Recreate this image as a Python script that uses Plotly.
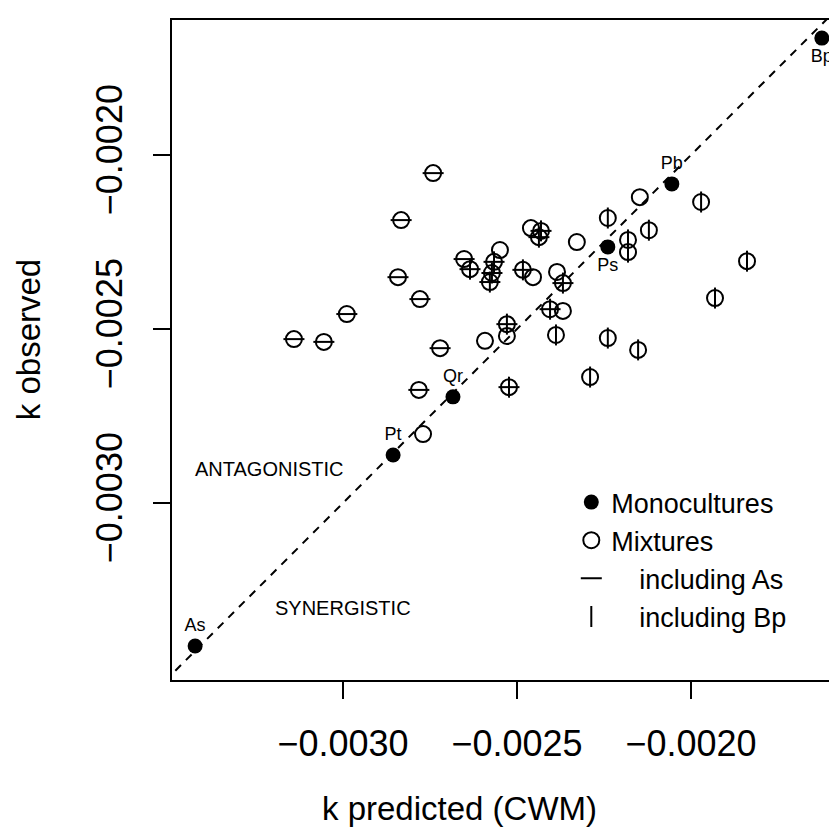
import plotly.graph_objects as go

# Monocultures
mono_names = ["As", "Pt", "Qr", "Ps", "Pb", "Bp"]
mono_pred = [-0.003425, -0.002856, -0.002684, -0.002239, -0.002055, -0.001624]
mono_obs = [-0.003411, -0.002862, -0.002695, -0.002264, -0.002083, -0.001664]
mono_labelpos = ["top center", "top center", "top center", "bottom center", "top center", "bottom center"]

# Mixtures: predicted (CWM), observed, and whether they include As / Bp
mix_pred = [
    # including As only
    -0.002741, -0.002833, -0.002842, -0.002652, -0.002779, -0.002989, -0.003141, -0.003055, -0.002721, -0.002782,
    # including As and Bp
    -0.002431, -0.002437, -0.002635, -0.002566, -0.002572, -0.002578, -0.002483, -0.002368, -0.002405, -0.002529, -0.002523,
    # including Bp only
    -0.002239, -0.002181, -0.002181, -0.002121, -0.001971, -0.001839, -0.001931, -0.002388, -0.002239, -0.002152, -0.002290,
    # neither
    -0.002460, -0.002328, -0.002549, -0.002454, -0.002385, -0.002368, -0.002529, -0.002592, -0.002770, -0.002147,
]
mix_obs = [
    -0.002052, -0.002187, -0.002351, -0.002299, -0.002414, -0.002457, -0.002529, -0.002537, -0.002555, -0.002675,
    -0.002218, -0.002236, -0.002328, -0.002307, -0.002339, -0.002365, -0.002330, -0.002368, -0.002443, -0.002486, -0.002667,
    -0.002181, -0.002244, -0.002279, -0.002216, -0.002135, -0.002305, -0.002411, -0.002517, -0.002526, -0.002560, -0.002638,
    -0.002210, -0.002250, -0.002273, -0.002351, -0.002336, -0.002448, -0.002520, -0.002534, -0.002802, -0.002121,
]
mix_has_As = [True] * 10 + [True] * 11 + [False] * 11 + [False] * 10
mix_has_Bp = [False] * 10 + [True] * 11 + [True] * 11 + [False] * 10

x_range = [-0.0034914, -0.0015948]
y_range = [-0.0035086, -0.0016120]
tick_vals = [-0.0030, -0.0025, -0.0020]

FONT = "Liberation Sans, Arial, Helvetica, sans-serif"

fig = go.Figure()

# 1:1 line
fig.add_trace(go.Scatter(
    x=[-0.0040, -0.0010], y=[-0.0040, -0.0010], mode="lines",
    line=dict(color="black", width=2, dash="8px,7px"),
    showlegend=False, hoverinfo="skip"))

fig.add_trace(go.Scatter(
    x=mono_pred, y=mono_obs, mode="markers+text", name="Monocultures",
    text=mono_names, textposition=mono_labelpos,
    textfont=dict(size=18, color="black", family=FONT),
    marker=dict(symbol="circle", size=15, color="black"),
    cliponaxis=False))

fig.add_trace(go.Scatter(
    x=mix_pred, y=mix_obs, mode="markers", name="Mixtures",
    marker=dict(symbol="circle-open", size=16, color="black", line=dict(width=2, color="black")),
    cliponaxis=False))

as_x = [x for x, a in zip(mix_pred, mix_has_As) if a]
as_y = [y for y, a in zip(mix_obs, mix_has_As) if a]
bp_x = [x for x, b in zip(mix_pred, mix_has_Bp) if b]
bp_y = [y for y, b in zip(mix_obs, mix_has_Bp) if b]

fig.add_trace(go.Scatter(
    x=as_x, y=as_y, mode="markers", name="\u00a0\u00a0\u00a0\u2009including As",
    marker=dict(symbol="line-ew", size=15, color="black", line=dict(width=2, color="black")),
    cliponaxis=False))
fig.add_trace(go.Scatter(
    x=bp_x, y=bp_y, mode="markers", name="\u00a0\u00a0\u00a0\u2009including Bp",
    marker=dict(symbol="line-ns", size=15, color="black", line=dict(width=2, color="black")),
    cliponaxis=False))

fig.add_annotation(x=-0.003210, y=-0.002902, text="ANTAGONISTIC", showarrow=False,
                   font=dict(size=20, color="black", family=FONT))
fig.add_annotation(x=-0.0030, y=-0.003302, text="SYNERGISTIC", showarrow=False,
                   font=dict(size=20, color="black", family=FONT))

fig.add_annotation(xref="paper", yref="paper", x=0.436, y=-0.194, text="k predicted (CWM)",
                   showarrow=False, xanchor="center", yanchor="middle",
                   font=dict(size=33, color="black", family=FONT))
fig.add_annotation(xref="paper", yref="paper", x=-0.218, y=0.515, text="k observed",
                   showarrow=False, xanchor="center", yanchor="middle", textangle=-90,
                   font=dict(size=33, color="black", family=FONT))

axis_common = dict(
    tickvals=tick_vals, tickformat=".4f", automargin=False,
    showgrid=False, zeroline=False, showline=True, mirror=True,
    linecolor="black", linewidth=2, ticks="outside", ticklen=17, tickwidth=2,
    tickcolor="black", tickfont=dict(size=36, color="black", family=FONT),
)
fig.update_xaxes(**axis_common, range=x_range, ticklabelstandoff=14)
fig.update_yaxes(**axis_common, range=y_range, tickangle=-90, ticklabelstandoff=17)

# The page body has an 8px default margin, so the figure is drawn 8px smaller
fig.update_layout(
    width=829, height=827,
    margin=dict(l=164, r=5, t=12, b=155),
    plot_bgcolor="white", paper_bgcolor="white",
    font=dict(family=FONT, color="black"),
    legend=dict(x=0.605, y=0.306, xanchor="left", yanchor="top",
                bgcolor="rgba(0,0,0,0)", borderwidth=0,
                font=dict(size=27, color="black", family=FONT),
                tracegroupgap=0),
)

fig.write_html("out.html")
